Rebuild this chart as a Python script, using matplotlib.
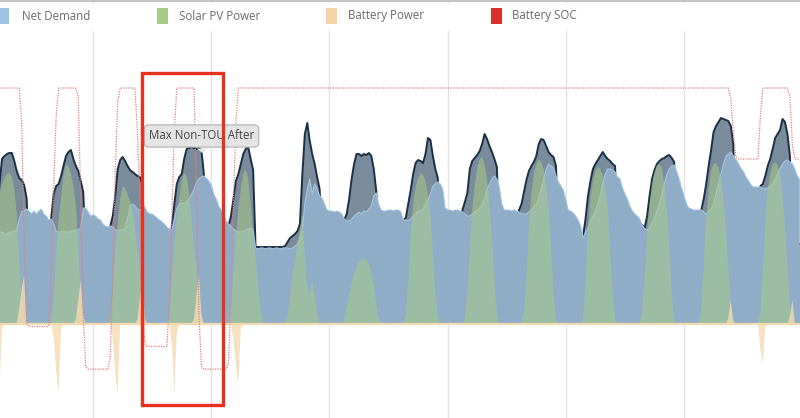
import numpy as np
import matplotlib.pyplot as plt
from matplotlib.patches import Rectangle, Polygon
from matplotlib.lines import Line2D

plt.rcParams['font.family'] = ['Open Sans', 'DejaVu Sans']

# hourly values, one list of 24 per day (kW)
net_demand = [
    [11.0, 11.0, 10.9, 10.8, 10.8, 10.7, 10.5, 10.2, 9.8, 9.5, 9.2, 9.2, 9.0, 9.0, 9.2, 9.2, 9.3, 9.4, 10.5, 11.2, 11.4, 11.5, 11.3, 11.0],
    [11.3, 11.0, 11.3, 11.5, 11.0, 10.8, 10.4, 10.5, 10.0, 9.3, 9.2, 9.2, 9.3, 9.2, 9.2, 9.3, 9.3, 9.4, 9.4, 9.6, 11.6, 11.6, 11.2, 10.8],
    [10.9, 10.8, 10.5, 10.4, 10.0, 9.8, 9.7, 9.8, 9.7, 9.4, 9.3, 9.4, 9.4, 9.6, 10.5, 11.8, 12.0, 11.8, 11.5, 11.3, 11.6, 11.7, 11.2, 11.0],
    [11.0, 10.8, 10.6, 10.4, 10.2, 10.0, 9.7, 9.5, 9.4, 10.5, 11.5, 12.0, 12.1, 12.0, 12.2, 12.5, 13.0, 13.5, 14.2, 14.5, 14.7, 14.8, 14.6, 14.3],
    [13.9, 13.0, 12.5, 11.8, 11.4, 11.0, 10.3, 10.0, 9.8, 9.5, 9.3, 9.2, 9.2, 9.3, 9.4, 9.5, 9.6, 9.4, 7.6, 7.5, 7.6, 7.6, 7.5, 7.6],
    [7.6, 7.5, 7.6, 7.6, 7.5, 7.6, 7.6, 7.6, 7.5, 7.6, 7.8, 8.0, 8.5, 9.5, 12.0, 13.5, 14.5, 13.0, 14.0, 13.5, 12.8, 12.6, 12.0, 11.4],
    [11.3, 11.3, 11.2, 11.3, 11.2, 11.0, 10.5, 10.3, 10.3, 10.5, 10.8, 11.0, 11.2, 11.0, 11.3, 11.2, 11.5, 11.8, 12.8, 13.1, 12.0, 11.4, 11.3, 11.3],
    [11.4, 11.4, 11.3, 11.4, 11.4, 11.2, 10.4, 10.4, 10.3, 10.5, 10.8, 11.0, 11.3, 11.3, 11.5, 12.0, 12.5, 13.0, 13.8, 14.0, 14.2, 14.0, 13.5, 11.6],
    [11.4, 11.4, 11.3, 11.4, 11.4, 11.3, 11.2, 11.0, 10.8, 10.8, 11.0, 11.2, 11.4, 11.6, 12.0, 12.5, 13.5, 14.0, 14.5, 14.8, 14.5, 13.7, 12.0, 11.4],
    [11.4, 11.4, 11.3, 11.4, 11.3, 11.2, 11.0, 11.0, 11.0, 11.2, 11.4, 11.7, 12.0, 12.5, 13.5, 14.5, 15.5, 16.0, 15.8, 15.6, 14.8, 14.2, 13.8, 13.4],
    [12.4, 11.4, 11.3, 11.1, 10.8, 10.4, 9.8, 8.6, 9.2, 9.6, 10.3, 10.8, 11.3, 12.0, 13.0, 14.0, 15.0, 15.5, 15.5, 15.4, 15.2, 14.7, 14.5, 13.6],
    [13.0, 12.5, 11.8, 11.3, 11.0, 10.8, 10.5, 9.9, 9.5, 9.4, 9.6, 10.0, 10.6, 11.3, 12.0, 13.0, 14.0, 15.0, 15.5, 15.8, 15.9, 15.3, 14.5, 13.6],
    [12.8, 12.0, 11.6, 11.5, 11.4, 11.4, 11.4, 11.4, 11.2, 11.0, 11.2, 11.5, 12.0, 13.0, 14.0, 15.0, 16.0, 16.8, 17.0, 17.2, 16.8, 16.5, 16.1, 15.6],
    [15.3, 14.8, 14.4, 14.0, 13.7, 13.7, 13.7, 13.7, 13.6, 13.5, 13.6, 13.8, 14.0, 14.5, 15.0, 15.5, 16.0, 16.3, 16.4, 16.2, 16.0, 15.5, 14.8, 14.4],
]

# demand before solar/battery (dark outlined series)
gross_demand = [
    [8.0, 8.0, 8.0, 8.0, 8.0, 8.0, 8.0, 8.0, 9.5, 11.5, 14.0, 16.5, 16.8, 17.0, 17.1, 17.1, 16.3, 15.3, 14.6, 14.4, 13.9, 12.6, 7.6, 7.6],
    [7.6, 7.6, 7.6, 7.6, 7.6, 7.6, 7.6, 10.6, 13.0, 13.8, 14.0, 14.8, 15.8, 16.8, 17.2, 17.4, 16.5, 15.8, 15.3, 14.3, 13.2, 7.6, 7.6, 7.6],
    [7.6, 7.6, 7.6, 7.6, 7.6, 7.6, 7.6, 9.8, 10.8, 12.8, 15.5, 16.4, 16.7, 16.3, 15.8, 15.4, 15.2, 15.0, 14.8, 14.7, 14.0, 7.6, 7.6, 7.6],
    [7.6, 7.6, 7.6, 7.6, 7.6, 7.6, 7.6, 7.6, 9.8, 12.0, 14.0, 14.7, 15.0, 16.5, 17.5, 17.6, 17.7, 17.6, 17.5, 17.6, 17.4, 15.0, 7.6, 7.6],
    [7.6, 7.6, 7.6, 7.6, 7.6, 7.6, 7.6, 9.8, 10.8, 12.5, 14.3, 15.0, 16.0, 17.0, 17.5, 17.7, 16.5, 15.4, 7.7, 7.7, 7.7, 7.7, 7.7, 7.7],
    [7.7, 7.7, 7.7, 7.7, 7.7, 7.7, 7.8, 8.2, 8.6, 8.8, 9.0, 9.3, 10.0, 15.0, 19.0, 20.1, 18.3, 17.0, 16.0, 14.7, 13.5, 8.0, 8.0, 8.0],
    [8.0, 8.0, 8.0, 8.0, 8.0, 8.0, 10.4, 11.0, 12.5, 14.5, 16.0, 17.0, 17.0, 16.8, 17.0, 16.9, 17.1, 16.8, 15.5, 13.3, 8.0, 8.0, 8.0, 8.0],
    [8.0, 8.0, 8.0, 8.0, 8.0, 8.0, 10.4, 10.6, 12.0, 13.4, 15.0, 16.1, 16.4, 16.3, 16.1, 17.0, 18.6, 18.4, 16.8, 15.5, 14.6, 8.0, 8.0, 8.0],
    [8.0, 8.0, 8.0, 8.0, 8.0, 8.0, 11.4, 12.2, 13.1, 15.5, 16.3, 16.6, 16.9, 17.3, 18.0, 19.0, 18.5, 17.8, 17.2, 16.5, 15.7, 8.0, 8.0, 8.0],
    [8.0, 8.0, 8.0, 8.0, 8.0, 11.4, 12.0, 13.2, 14.4, 15.3, 15.8, 16.2, 16.8, 18.0, 18.5, 18.4, 17.8, 17.2, 16.9, 16.7, 15.8, 8.0, 8.0, 8.0],
    [8.0, 8.0, 8.0, 8.0, 8.0, 8.0, 8.0, 8.8, 10.5, 12.8, 14.3, 15.5, 16.0, 16.4, 16.8, 17.2, 16.8, 16.5, 16.3, 16.0, 15.8, 8.0, 8.0, 8.0],
    [8.0, 8.0, 8.0, 8.0, 8.0, 8.0, 8.0, 9.9, 9.6, 10.8, 12.8, 14.5, 15.4, 16.0, 16.3, 16.5, 16.6, 16.8, 16.9, 16.6, 16.2, 8.0, 8.0, 8.0],
    [8.0, 8.0, 8.0, 8.0, 8.0, 8.0, 8.0, 11.4, 12.5, 14.0, 15.8, 17.4, 19.2, 19.8, 20.2, 20.6, 20.5, 20.4, 20.3, 19.8, 18.0, 8.0, 8.0, 8.0],
    [8.0, 8.0, 8.0, 8.0, 8.0, 8.0, 8.0, 13.8, 14.0, 14.8, 15.8, 16.5, 17.5, 18.6, 19.0, 19.4, 20.5, 20.2, 19.0, 16.8, 8.0, 8.0, 8.0, 8.0],
]

solar_pv = [
    [0, 0, 0, 0, 0, 0, 0.2, 1.5, 4.5, 8.5, 13.0, 14.0, 14.6, 15.0, 15.1, 14.8, 13.5, 11.0, 6.0, 2.5, 0.5, 0, 0, 0],
    [0, 0, 0, 0, 0, 0, 0, 0, 2.5, 7.0, 10.5, 12.6, 14.8, 16.0, 15.8, 15.0, 13.8, 12.0, 7.5, 2.5, 0, 0, 0, 0],
    [0, 0, 0, 0, 0, 0, 0, 0.5, 3.0, 7.0, 10.0, 12.5, 13.7, 13.6, 13.0, 12.3, 11.4, 9.5, 7.5, 6.0, 1.0, 0, 0, 0],
    [0, 0, 0, 0, 0, 0, 0, 0.8, 4.5, 8.0, 10.5, 12.5, 14.3, 15.1, 14.8, 13.0, 10.5, 7.5, 5.5, 2.5, 0.3, 0, 0, 0],
    [0, 0, 0, 0, 0, 0, 0, 0, 1.5, 5.0, 8.5, 11.5, 13.5, 15.0, 15.5, 14.5, 12.0, 9.0, 6.5, 4.0, 1.5, 0, 0, 0],
    [0, 0, 0, 0, 0, 0, 0, 0.8, 2.5, 5.0, 6.5, 8.0, 9.5, 11.0, 7.0, 3.5, 3.0, 4.4, 3.0, 1.2, 0, 0, 0, 0],
    [0, 0, 0, 0, 0, 0, 0.3, 1.8, 3.0, 4.0, 5.0, 5.7, 6.2, 6.5, 6.6, 6.4, 6.0, 5.3, 3.8, 2.0, 0.6, 0, 0, 0],
    [0, 0, 0, 0, 0, 0, 0, 0.9, 4.1, 8.8, 11.9, 13.7, 14.6, 15.1, 14.9, 14.3, 13.0, 10.9, 7.2, 3.0, 0.6, 0, 0, 0],
    [0, 0, 0, 0, 0, 0, 0, 0.6, 3.0, 7.5, 11.5, 14.0, 15.6, 16.5, 16.7, 16.0, 14.5, 12.0, 8.5, 4.0, 1.0, 0, 0, 0],
    [0, 0, 0, 0, 0, 0, 0.2, 1.0, 4.5, 9.5, 13.0, 15.0, 16.0, 16.4, 16.2, 15.5, 14.0, 11.5, 7.5, 3.0, 0.5, 0, 0, 0],
    [0, 0, 0, 0, 0, 0, 0, 0.5, 4.0, 9.5, 12.5, 14.3, 15.3, 15.7, 15.5, 14.9, 13.5, 11.5, 7.5, 3.0, 0.5, 0, 0, 0],
    [0, 0, 0, 0, 0, 0, 0, 1.0, 4.5, 9.0, 12.0, 14.0, 15.2, 15.9, 16.0, 15.6, 14.0, 11.5, 7.5, 3.0, 0.5, 0, 0, 0],
    [0, 0, 0, 0, 0, 0, 0.2, 1.5, 5.5, 10.5, 13.5, 15.2, 16.0, 16.1, 15.6, 14.5, 12.5, 9.5, 5.5, 1.5, 0, 0, 0, 0],
    [0, 0, 0, 0, 0, 0, 0.2, 1.2, 5.0, 10.0, 13.3, 15.0, 15.9, 16.2, 15.9, 14.8, 12.8, 9.8, 5.8, 1.8, 0.2, 0, 0, 0],
]

# + discharge, - charge
battery_power = [
    [0, 0, 0, 0, 0, 0, 0, 0, 0, -3.0, -6.5, -0.5, 0, 0, 0, 0, 0, 0, 1.5, 3.5, 4.9, 0, 0, 0],
    [0, 0, 0, 0, 0, 0, 0, 0, -1.5, -4.5, -7.0, -0.5, 0, 0, 0, 0, 0, 0.5, 2.5, 4.4, 1.0, 0, 0, 0],
    [0, 0, 0, 0, 0, 0, 0, 0, -1.5, -5.0, -7.0, 0, 0, 0, 0, 0, 0, 0, 0.5, 2.5, 4.4, 0.5, 0, 0],
    [0, 0, 0, 0, 0, 0, 0, 0, -2.0, -7.0, -1.0, 0, 0, 0, 0, 0, 0, 0.5, 3.0, 4.9, 1.0, 0, 0, 0],
    [0, 0, 0, 0, 0, 0, 0, 0, 0, -1.5, -4.0, -6.0, -0.5, 0, 0, 0, 0, 0, 0, 0, 0, 0, 0, 0],
    [0] * 24,
    [0] * 24,
    [0] * 24,
    [0] * 24,
    [0] * 24,
    [0] * 24,
    [0] * 24,
    [0, 0, 0, 0, 0, 0, 0, 0, 0, 0, 0, 0, 0, 0, 0, 0, 0, 0, 0.6, 2.4, 0.3, 0, 0, 0],
    [0, 0, 0, 0, 0, 0, 0, -2.5, -4.0, -0.3, 0, 0, 0, 0, 0, 0, 0, 0, 0, 0.8, 2.4, 0, 0, 0],
]

# state of charge, %
battery_soc = [
    [100] * 19 + [88, 45, 17, 16, 16],
    [16, 16, 16, 16, 16, 16, 16, 35, 65, 90] + [100] * 8 + [97, 60, 20, 2, 1, 1],
    [1] * 7 + [5, 35, 70, 95] + [100] * 7 + [85, 60, 30, 10, 9, 9],
    [9] * 7 + [25, 55, 85] + [100] * 8 + [60, 20, 2, 1, 1, 1],
    [1] * 7 + [3, 30, 60, 88] + [100] * 13,
    [100] * 24,
    [100] * 24,
    [100] * 24,
    [100] * 24,
    [100] * 24,
    [100] * 24,
    [100] * 24,
    [100] * 19 + [96, 85, 76, 75, 75],
    [75] * 7 + [90] + [100] * 11 + [97, 80, 75, 75, 75],
]

legend_labels = ["Net Demand", "Solar PV Power", "Battery Power", "Battery SOC"]
legend_colors = ["#9fc3e2", "#a9c98a", "#f2d6a8", "#d6312b"]
tooltip_text = "Max Non-TOU After"

net = np.concatenate(net_demand)
gross = np.concatenate(gross_demand)
solar = np.concatenate(solar_pv)
battery = np.concatenate(battery_power)
soc = np.concatenate(battery_soc)
hours = np.arange(len(net))

W, H = 800, 418
fig = plt.figure(figsize=(W / 100, H / 100), dpi=100)
ax = fig.add_axes([0, 0, 1, 1])

ax.fill_between(hours, 0, gross, color="#7a8b9b", lw=0, zorder=1)
ax.plot(hours, gross, color="#1c3045", lw=1.4, zorder=1.5)
ax.fill_between(hours, 0, net, color="#8fadc6", lw=0, zorder=2)
ax.plot(hours, net, color="#a6c4de", lw=0.8, zorder=2.1)
ax.fill_between(hours, 0, solar, color="#a8ca88", alpha=0.55, lw=0, zorder=3)
ax.fill_between(hours, 0, battery, color="#f4dbb2", alpha=0.8, lw=0, zorder=4)
ax.axhline(0, color="#f3dab0", lw=1.6, zorder=4.5)

ax.set_xlim(10.2, 335.1)
ax.set_ylim(-9.4, 32.4)
ax.set_xticks(np.arange(48, 336, 48))
ax.set_yticks([])
ax.tick_params(length=0, labelbottom=False)
ax.grid(axis="x", color="#e2e2e2", lw=1)
ax.set_axisbelow(True)
for s in ax.spines.values():
    s.set_visible(False)

ax2 = ax.twinx()
ax2.plot(hours, soc, color="#e97c7c", lw=0.9, ls=(0, (1, 1)))
ax2.set_ylim(-16.2, 131.0)
ax2.set_yticks([])
for s in ax2.spines.values():
    s.set_visible(False)


def fx(px):
    return px / W


def fy(py):
    return 1 - py / H


# tooltip
fig.text(fx(201.5), fy(136), tooltip_text, ha="center", va="center", fontsize=8.3,
         color="#444444", zorder=8,
         bbox=dict(boxstyle="round,pad=0.4", fc="#e4e4e4", ec="#b0b0b0", lw=0.8))
fig.add_artist(Polygon([(fx(197), fy(148.5)), (fx(207), fy(148.5)), (fx(202), fy(153))],
                       closed=True, transform=fig.transFigure, fc="#e4e4e4", ec="none", zorder=8))

# highlight box
fig.add_artist(Rectangle((fx(142), fy(405)), fx(223) - fx(142), fy(73) - fy(405),
                         transform=fig.transFigure, fill=False, ec="#e8321e", lw=2.4, zorder=9))

# legend band
fig.add_artist(Rectangle((0, fy(31)), 1, fy(3) - fy(31), transform=fig.transFigure,
                         fc="white", ec="none", zorder=6))
fig.add_artist(Line2D([0, 1], [fy(0.5), fy(0.5)], transform=fig.transFigure,
                      color="#c4c4c4", lw=1.5, zorder=7))
sq_x = [-2, 157, 326, 491]
txt_x = [22, 179, 348, 512]
for lab, col, sx, tx in zip(legend_labels, legend_colors, sq_x, txt_x):
    fig.add_artist(Rectangle((fx(sx), fy(24)), fx(11), fy(8) - fy(24), transform=fig.transFigure,
                             fc=col, ec="none", zorder=7))
    fig.text(fx(tx), fy(16), lab, ha="left", va="center", fontsize=8.3, color="#6a6a6a", zorder=7)

fig.savefig("out.png", dpi=100, facecolor="white")
